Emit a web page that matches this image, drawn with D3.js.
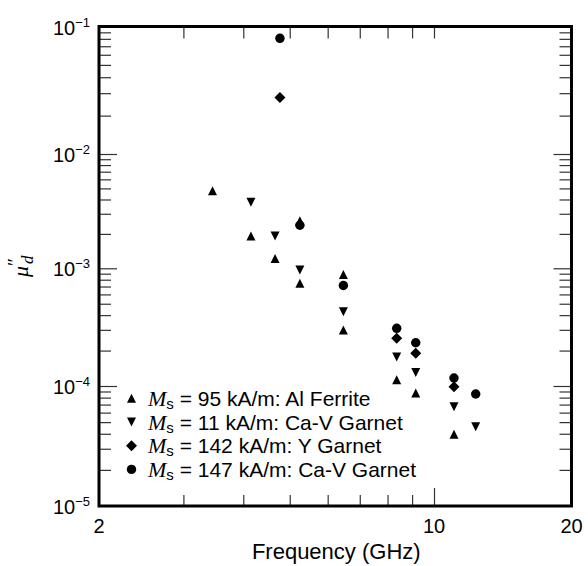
<!DOCTYPE html>
<html>
<head>
<meta charset="utf-8">
<script src="https://cdn.jsdelivr.net/npm/d3@7"></script>
<style>
  html, body { margin: 0; padding: 0; background: #fff; }
  svg { display: block; }
</style>
</head>
<body>
<svg id="chart" width="588" height="566"></svg>
<script>
// ---- data ----
const alFreq   = [3.45, 4.15, 4.66, 5.25, 5.25, 6.47, 6.47, 8.36, 9.16, 11.06];
const alMu     = [4.77e-3, 1.92e-3, 1.22e-3, 2.6e-3, 0.746e-3, 0.886e-3, 0.299e-3, 0.113e-3, 0.875e-4, 0.396e-4];

const cav11Freq = [4.15, 4.66, 5.25, 6.47, 8.36, 9.16, 11.06, 12.34];
const cav11Mu   = [3.78e-3, 1.92e-3, 0.967e-3, 0.428e-3, 0.176e-3, 0.130e-3, 0.672e-4, 0.458e-4];

const ygFreq = [4.77, 8.36, 9.16, 11.06];
const ygMu   = [0.0278, 0.254e-3, 0.190e-3, 0.987e-4];

const cav147Freq = [4.77, 5.25, 6.47, 8.36, 9.16, 11.06, 12.34];
const cav147Mu   = [0.0808, 2.38e-3, 0.714e-3, 0.309e-3, 0.233e-3, 1.17e-4, 0.858e-4];

const legendMs    = ["95", "11", "142", "147"];
const legendNames = ["Al Ferrite", "Ca-V Garnet", "Y Garnet", "Ca-V Garnet"];

const xMajorTicks  = [2, 10, 20];
const xMajorLabels = ["2", "10", "20"];
const xMinorTicks  = [3, 4, 5, 6, 7, 8, 9];
const yMajorTicks  = [1e-1, 1e-2, 1e-3, 1e-4, 1e-5];
const yMajorExp    = ["\u22121", "\u22122", "\u22123", "\u22124", "\u22125"];
const yMinorTicks  = [1e-2, 1e-3, 1e-4, 1e-5].flatMap(b => [2,3,4,5,6,7,8,9].map(k => k * b));

// ---- layout ----
const L = 99, R = 571.5, T = 26.5, B = 506;
const svg = d3.select("#chart");
const sans = "'Liberation Sans', Arial, Helvetica, sans-serif";
const serif = "'Liberation Serif', 'Times New Roman', serif";

// log scales (piecewise to follow the scanned axis)
const x = d3.scaleLog().domain([2, 10, 20]).range([L, 434, R]);
const y = d3.scaleLog().domain([1e-1, 1e-2, 1e-3, 1e-4, 1e-5]).range([T, 154, 268.3, 386, B]);

// ---- ticks via d3 axes (inward) ----
function styleAxis(g) {
  g.select(".domain").remove();
  g.selectAll(".tick line").attr("stroke", "#333").attr("stroke-width", 1.2);
  g.selectAll(".tick text").remove();
}
svg.append("g").attr("transform", `translate(0,${B})`)
  .call(d3.axisBottom(x).tickValues(xMinorTicks).tickSize(-11)).call(styleAxis);
svg.append("g").attr("transform", `translate(0,${B})`)
  .call(d3.axisBottom(x).tickValues([10]).tickSize(-18)).call(styleAxis);
svg.append("g").attr("transform", `translate(0,${T})`)
  .call(d3.axisTop(x).tickValues(xMinorTicks.concat([10])).tickSize(-12)).call(styleAxis);
svg.append("g").attr("transform", `translate(${L},0)`)
  .call(d3.axisLeft(y).tickValues(yMinorTicks).tickSize(-12)).call(styleAxis);
svg.append("g").attr("transform", `translate(${L},0)`)
  .call(d3.axisLeft(y).tickValues([1e-2, 1e-3, 1e-4]).tickSize(-18)).call(styleAxis);
svg.append("g").attr("transform", `translate(${R},0)`)
  .call(d3.axisRight(y).tickValues(yMinorTicks).tickSize(-12)).call(styleAxis);
svg.append("g").attr("transform", `translate(${R},0)`)
  .call(d3.axisRight(y).tickValues([1e-2, 1e-3, 1e-4]).tickSize(-18)).call(styleAxis);

// frame
svg.append("rect").attr("x", L).attr("y", T).attr("width", R - L).attr("height", B - T)
  .attr("fill", "none").attr("stroke", "#000").attr("stroke-width", 3);

// ---- tick labels ----
svg.append("g").selectAll("text").data(xMajorTicks).join("text")
  .attr("x", d => x(d)).attr("y", 533)
  .attr("text-anchor", "middle").attr("font-family", sans).attr("font-size", 20)
  .text((d, i) => xMajorLabels[i]);

const yl = svg.append("g").selectAll("text").data(yMajorTicks).join("text")
  .attr("x", 90).attr("y", d => Math.max(y(d) + 8, 30))
  .attr("text-anchor", "end").attr("font-family", sans).attr("font-size", 20);
yl.append("tspan").text("10");
yl.append("tspan").attr("font-size", 13).attr("dy", -8).text((d, i) => yMajorExp[i]);

// axis titles
svg.append("text").attr("x", (L + R) / 2 + 1).attr("y", 559)
  .attr("text-anchor", "middle").attr("font-family", sans).attr("font-size", 22)
  .text("Frequency (GHz)");

const yt = svg.append("text")
  .attr("transform", `translate(28,${(T + B) / 2}) rotate(-90)`)
  .attr("text-anchor", "middle").attr("font-family", serif);
yt.append("tspan").attr("font-style", "italic").attr("font-size", 22).text("\u03bc");
yt.append("tspan").attr("font-size", 19).attr("dy", -7).text("\u2033");
yt.append("tspan").attr("font-style", "italic").attr("font-size", 17).attr("dx", -6).attr("dy", 12).text("d");

// ---- symbols ----
const triUp = { draw(ctx, size) { const r = Math.sqrt(size) / 2; ctx.moveTo(0, -r); ctx.lineTo(r, r); ctx.lineTo(-r, r); ctx.closePath(); } };
const triDown = { draw(ctx, size) { const r = Math.sqrt(size) / 2; ctx.moveTo(0, r); ctx.lineTo(r, -r); ctx.lineTo(-r, -r); ctx.closePath(); } };
const diamond = { draw(ctx, size) { const r = Math.sqrt(size) / 2; ctx.moveTo(0, -r); ctx.lineTo(r, 0); ctx.lineTo(0, r); ctx.lineTo(-r, 0); ctx.closePath(); } };

const series = [
  { f: alFreq, m: alMu, sym: d3.symbol(triUp, 81) },
  { f: cav11Freq, m: cav11Mu, sym: d3.symbol(triDown, 81) },
  { f: ygFreq, m: ygMu, sym: d3.symbol(diamond, 121) },
  { f: cav147Freq, m: cav147Mu, sym: d3.symbol(d3.symbolCircle, 70) }
];

series.forEach(s => {
  svg.append("g").selectAll("path").data(s.f.map((f, i) => [f, s.m[i]])).join("path")
    .attr("d", s.sym())
    .attr("transform", d => `translate(${x(d[0])},${y(d[1])})`)
    .attr("fill", "#000");
});

// ---- legend ----
const lg = svg.append("g");
series.forEach((s, i) => {
  const ly = 398.3 + i * 23.7;
  lg.append("path").attr("d", s.sym()).attr("transform", `translate(131.5,${ly})`).attr("fill", "#000");
  const t = lg.append("text").attr("x", 148).attr("y", ly + 7.5).attr("font-size", 21);
  t.append("tspan").attr("font-family", serif).attr("font-style", "italic").attr("font-size", 22).text("M");
  t.append("tspan").attr("font-family", sans).attr("font-size", 15).attr("dy", 3).text("s");
  t.append("tspan").attr("font-family", sans).attr("dy", -3).text("\u00a0= " + legendMs[i] + " kA/m: " + legendNames[i]);
});
</script>
</body>
</html>
